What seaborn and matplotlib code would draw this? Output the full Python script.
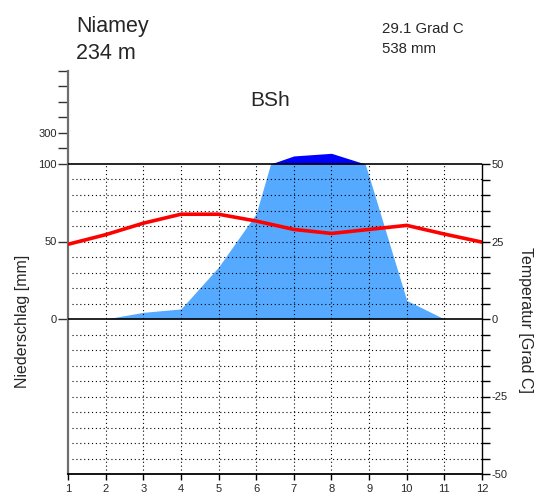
import numpy as np
import matplotlib
matplotlib.use("Agg")
import matplotlib.pyplot as plt
import seaborn as sns

station = "Niamey"
elevation = "234 m"
climate_class = "BSh"
mean_temp_label = "29.1 Grad C"
annual_precip_label = "538 mm"

months = [1, 2, 3, 4, 5, 6, 7, 8, 9, 10, 11, 12]
temperature = [24.1, 27.2, 30.9, 33.8, 33.8, 31.6, 28.9, 27.6, 28.9, 30.2, 27.4, 24.8]
precipitation = [0, 0, 4.3, 6.5, 33.5, 68, 152, 169, 92, 12, 0, 0]

left_ticks = [0, 25, 50, 55, 60, 65, 70, 75, 80]
left_labels = ["0", "50", "100", "", "300", "", "", "", ""]
right_ticks = list(range(-50, 55, 5))
right_labels = [str(t) if t % 25 == 0 else "" for t in right_ticks]

sns.set_style("white")
plt.rcParams['font.family'] = ['Liberation Sans', 'DejaVu Sans']

W, H = 546, 499
fig = plt.figure(figsize=(W / 100, H / 100), dpi=100)
ax = fig.add_axes([68 / W, 25 / H, 414 / W, 403 / H])
ax.set_xlim(1, 12)
ax.set_ylim(-50, 80)


def to_axis(p):
    p = np.asarray(p, float)
    return np.where(p <= 100, p / 2.0, 50 + (p - 100) / 20.0)


# dense sampling for drawing the piecewise precipitation scale
xd = np.linspace(1, 12, 2201)
pdense = np.interp(xd, months, precipitation)
ax.fill_between(xd, 0, np.minimum(pdense, 100) / 2.0, color="#55aaff", lw=0, zorder=1)
ax.fill_between(xd, 50, to_axis(np.maximum(pdense, 100)), color="#0000ff", lw=0, zorder=1)

# dotted grid
hy = [y for y in range(-45, 50, 5) if y != 0]
ax.hlines(hy, 1.1, 12, colors="black", linestyles=(0, (1, 2.5)), lw=0.8, zorder=2)
ax.vlines(months[1:-1], -50, 50, colors="black", linestyles=(0, (1, 2.5)), lw=0.8, zorder=2)
ax.hlines([0, 50], 1, 12, colors="black", lw=1.2, zorder=3)

sns.lineplot(x=months, y=temperature, color="#ff0000", lw=2.6, ax=ax, zorder=4)

# spines
ax.spines["top"].set_visible(False)
ax.spines["right"].set_visible(False)
ax.spines["left"].set_color("#6e6e6e")
ax.spines["left"].set_linewidth(1.6)
ax.spines["left"].set_bounds(-50, 80)
ax.spines["bottom"].set_color("black")
ax.spines["bottom"].set_linewidth(1.3)

ax.set_xticks(months)
ax.set_xticklabels([str(m) for m in months])
ax.tick_params(axis="x", direction="out", length=4, width=1, color="black",
               labelsize=8, pad=3, bottom=True)
ax.set_yticks(left_ticks)
ax.set_yticklabels(left_labels)
ax.tick_params(axis="y", direction="out", length=7, width=1, color="#333333",
               labelsize=8, pad=1, left=True)

ax2 = ax.twinx()
ax2.set_ylim(-50, 80)
for s in ["top", "left", "bottom"]:
    ax2.spines[s].set_visible(False)
ax2.spines["right"].set_color("black")
ax2.spines["right"].set_linewidth(1.0)
ax2.spines["right"].set_bounds(-50, 50)
ax2.set_yticks(right_ticks)
ax2.set_yticklabels(right_labels)
ax2.tick_params(axis="y", direction="out", length=6, width=1, color="black",
                labelsize=8, pad=1, right=True)
ax2.grid(False)
ax.grid(False)

ax.set_ylabel("Niederschlag [mm]", fontsize=11.5)
ax.yaxis.set_label_coords((30 - 68) / 414, (474 - 321) / 403)
ax2.set_ylabel("Temperatur [Grad C]", fontsize=11.5, rotation=270, va="center")
ax2.yaxis.set_label_coords((526 - 68) / 414, (474 - 320) / 403)
ax.set_xlabel("")


def ftext(x, y, s, **kw):
    fig.text(x / W, 1 - y / H, s, va="baseline", **kw)


ftext(76, 32, station, fontsize=15.5)
ftext(76, 59, elevation, fontsize=15.5)
ftext(382, 33, mean_temp_label, fontsize=10.8)
ftext(382, 53, annual_precip_label, fontsize=10.8)
ftext(270, 106, climate_class, fontsize=15, ha="center")

fig.savefig("out.png", dpi=100)
